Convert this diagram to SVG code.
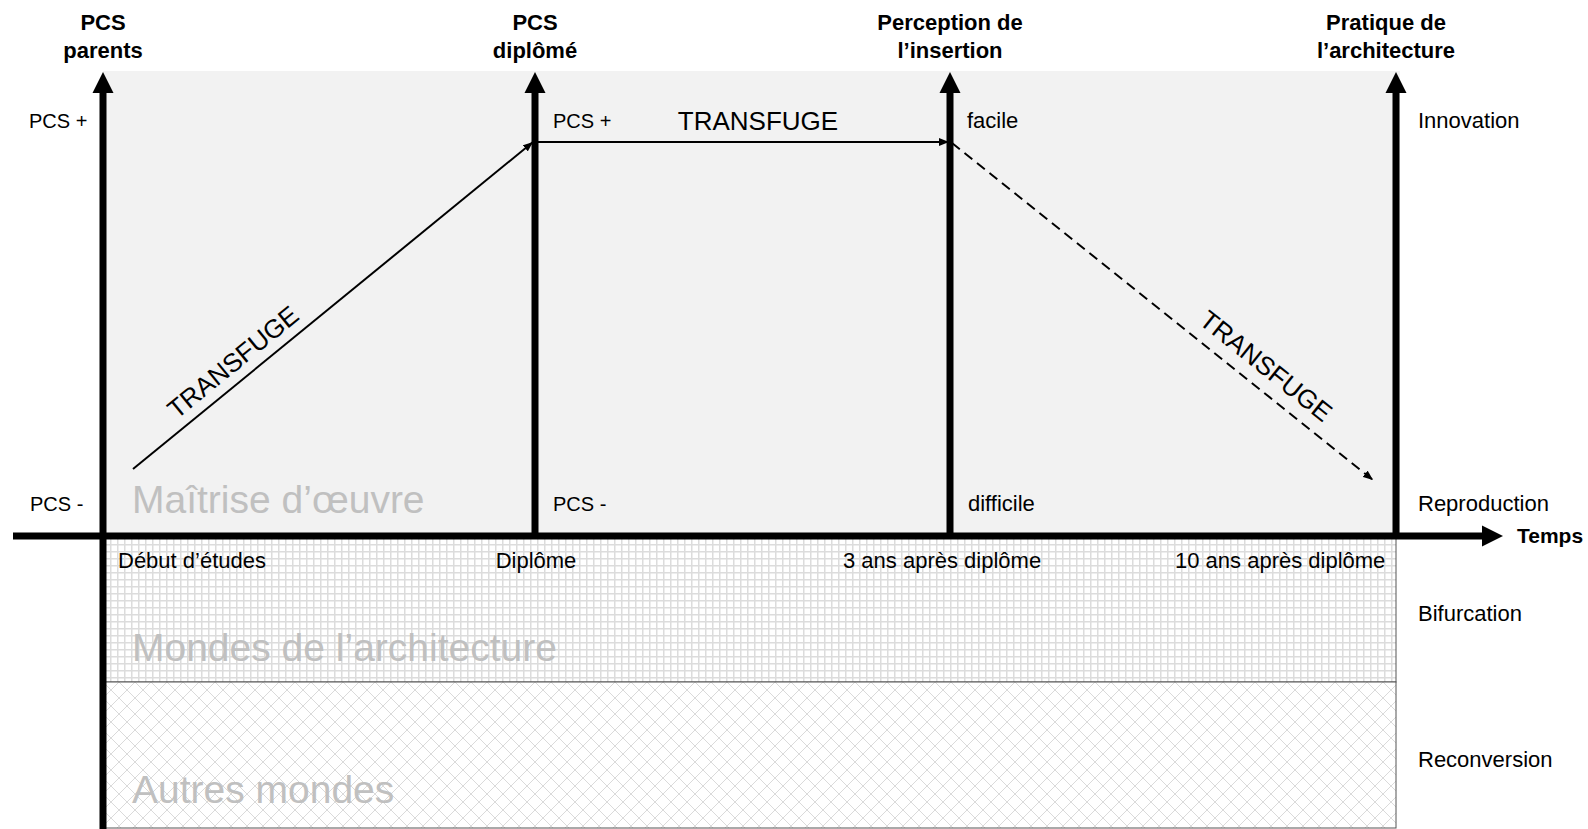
<svg xmlns="http://www.w3.org/2000/svg" width="1588" height="829" viewBox="0 0 1588 829">
<style>
text{font-family:"Liberation Sans",Arial,sans-serif;fill:#000}
.t{font-size:22px}
.p{font-size:20px}
.b{font-size:22px;font-weight:bold;text-anchor:middle}
.big{font-size:26px}
.wm{font-size:39px;fill:#c0c0c0}
.axis{stroke:#000;stroke-width:7;fill:none}
.thin{stroke:#000;stroke-width:2;fill:none}
.head{fill:#000}
</style>
<defs>
<pattern id="grid" x="103" y="537" width="7" height="7" patternUnits="userSpaceOnUse">
<rect width="7" height="7" fill="#fff"/>
<path d="M0 0.75H7M0.75 0V7" stroke="#dcdcdc" stroke-width="1.5"/>
</pattern>
<pattern id="cross" x="103" y="682" width="16" height="16" patternUnits="userSpaceOnUse">
<rect width="16" height="16" fill="#fff"/>
<path d="M0 0L16 16M16 0L0 16" stroke="#dadada" stroke-width="1"/>
</pattern>
<marker id="arr" viewBox="0 0 10 8" refX="10" refY="4" markerWidth="10" markerHeight="8" markerUnits="userSpaceOnUse" orient="auto">
<path d="M0 0L10 4L0 8z" fill="#000"/>
</marker>
</defs>

<g id="regions">
<rect x="103" y="71" width="1297" height="466" fill="#f2f2f2"/>
<rect x="103" y="537" width="1293" height="145" fill="url(#grid)" stroke="#555" stroke-width="1"/>
<rect x="103" y="682" width="1293" height="146" fill="url(#cross)" stroke="#555" stroke-width="1"/>
</g>

<g id="axes">
<line class="axis" x1="103" y1="90" x2="103" y2="829"/>
<polygon class="head" points="103,72 92.5,93 113.5,93"/>
<line class="axis" x1="535" y1="90" x2="535" y2="537"/>
<polygon class="head" points="535,72 524.5,93 545.5,93"/>
<line class="axis" x1="950" y1="90" x2="950" y2="537"/>
<polygon class="head" points="950,72 939.5,93 960.5,93"/>
<line class="axis" x1="1396" y1="90" x2="1396" y2="537"/>
<polygon class="head" points="1396,72 1385.5,93 1406.5,93"/>
<line class="axis" x1="13" y1="536" x2="1485" y2="536"/>
<polygon class="head" points="1503,536 1482,525.5 1482,546.5"/>
</g>

<g id="connectors">
<line class="thin" x1="133" y1="469" x2="533" y2="142" marker-end="url(#arr)"/>
<line class="thin" x1="538" y1="142" x2="949" y2="142" marker-end="url(#arr)"/>
<line class="thin" x1="952" y1="143" x2="1373" y2="480" stroke-dasharray="10 6" marker-end="url(#arr)"/>
</g>

<g id="axis-titles">
<text class="b" x="103" y="30">PCS</text>
<text class="b" x="103" y="58">parents</text>
<text class="b" x="535" y="30">PCS</text>
<text class="b" x="535" y="58">diplômé</text>
<text class="b" x="950" y="30">Perception de</text>
<text class="b" x="950" y="58">l’insertion</text>
<text class="b" x="1386" y="30">Pratique de</text>
<text class="b" x="1386" y="58">l’architecture</text>
<text x="1517" y="543" style="font-size:21px;font-weight:bold">Temps</text>
</g>

<g id="labels">
<text class="p" x="29" y="128">PCS +</text>
<text class="p" x="30" y="511">PCS -</text>
<text class="p" x="553" y="128">PCS +</text>
<text class="p" x="553" y="511">PCS -</text>
<text class="t" x="967" y="128">facile</text>
<text class="t" x="968" y="511">difficile</text>
<text class="t" x="1418" y="128">Innovation</text>
<text class="t" x="1418" y="511">Reproduction</text>
<text class="t" x="1418" y="621">Bifurcation</text>
<text class="t" x="1418" y="767">Reconversion</text>
<text class="t" x="118" y="568">Début d’études</text>
<text class="t" x="536" y="568" text-anchor="middle">Diplôme</text>
<text class="t" x="843" y="568">3 ans après diplôme</text>
<text class="t" x="1175" y="568">10 ans après diplôme</text>
<text class="big" x="758" y="130" text-anchor="middle">TRANSFUGE</text>
<text class="big" text-anchor="middle" transform="translate(233,362) rotate(-39.3)" x="0" y="9">TRANSFUGE</text>
<text class="big" text-anchor="middle" transform="translate(1266,366) rotate(38.6)" x="0" y="9">TRANSFUGE</text>
</g>

<g id="watermarks">
<text class="wm" x="132" y="513">Maîtrise d’œuvre</text>
<text class="wm" x="132" y="661">Mondes de l’architecture</text>
<text class="wm" x="132" y="803">Autres mondes</text>
</g>
</svg>
